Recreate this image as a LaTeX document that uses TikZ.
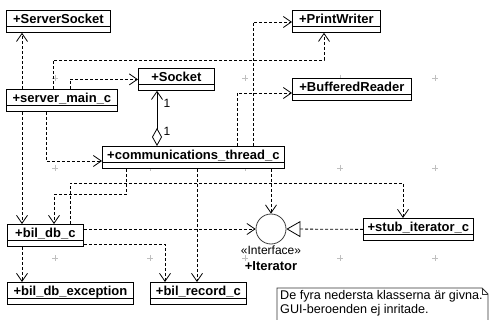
\documentclass[tikz,border=0pt]{standalone}
\usepackage{fontspec}
\newfontfamily\lib{Liberation Sans}
\usetikzlibrary{arrows.meta}
\begin{document}
\begin{tikzpicture}[x=1pt,y=-1pt,
  cls/.style={draw=black, fill=white, line width=0.8pt, inner xsep=3pt, inner ysep=0pt,
    text height=13pt, text depth=9pt, anchor=north west,
    font=\lib\bfseries\fontsize{13}{15}\selectfont,
    path picture={\draw[line width=0.8pt] ([yshift=-16pt]path picture bounding box.north west) -- ([yshift=-16pt]path picture bounding box.north east);}},
  dep/.style={line width=0.8pt, dash pattern=on 3pt off 2pt,
    -{Straight Barb[length=8pt,width=11pt,line width=0.8pt]}},
  real/.style={line width=0.8pt, dash pattern=on 3pt off 2pt,
    -{Triangle[open,length=14pt,width=16pt,line width=0.8pt]}},
  agg/.style={line width=0.8pt,
    {Diamond[open,length=18pt,width=10pt,line width=0.8pt]}-{Straight Barb[length=8pt,width=11pt,line width=0.8pt]}},
  gridmark/.style={draw=black!25, line width=0.6pt},
  lbl/.style={font=\lib\fontsize{12}{14}\selectfont, inner sep=0pt}
]
\useasboundingbox (0,0) rectangle (489,320);
\fill[white] (0,0) rectangle (489,320);
% background grid marks
\foreach \gx in {55,150,245,340,435}
  \foreach \gy in {78,168,258}
    \draw[gridmark] (\gx-3,\gy) -- (\gx+3,\gy) (\gx,\gy-3) -- (\gx,\gy+3);

% classes
\node[cls, minimum width=104pt] (ss) at (6,10) {+ServerSocket};
\node[cls, minimum width=88pt] (pw) at (292,10) {+PrintWriter};
\node[cls, minimum width=76pt] (so) at (138,68) {+Socket};
\node[cls, minimum width=111pt] (sm) at (6,89) {+server\_main\_c};
\node[cls, minimum width=119pt] (bf) at (292,78) {+BufferedReader};
\node[cls, minimum width=182pt] (cm) at (102,146) {+communications\_thread\_c};
\node[cls, minimum width=76pt] (bd) at (7,224) {+bil\_db\_c};
\node[cls, minimum width=110pt] (st) at (363,218) {+stub\_iterator\_c};
\node[cls, minimum width=126pt] (ex) at (7,282) {+bil\_db\_exception};
\node[cls, minimum width=96pt] (rc) at (150,282) {+bil\_record\_c};

% interface
\node[circle, draw=black!75, line width=0.8pt, fill=white, minimum size=30pt, inner sep=0pt] (it) at (271,229) {};
\node[lbl] (itst) at (271,250) {«Interface»};
\node[lbl, font=\lib\bfseries\fontsize{13}{15}\selectfont] (itnm) at (271,266) {+Iterator};

% connectors
\draw[dep] ([xshift=16pt]sm.north west) -- ([xshift=16pt]ss.south west);
\draw[dep] ([xshift=64pt]sm.north west) |- (so.west);
\draw[dep] ([xshift=47pt]sm.north west) -- ++(0,-29) -| ([xshift=32pt]pw.south west);
\draw[dep] ([xshift=40pt]sm.south west) |- ([yshift=-15pt]cm.north west);
\draw[dep] ([xshift=16pt]sm.south west) -- ([xshift=15pt]bd.north west);
\draw[agg] ([xshift=55pt]cm.north west) -- ([xshift=19pt]so.south west);
\node[lbl] (m1) at (167,103) {1};
\node[lbl] (m2) at (167,131) {1};
\draw[dep] ([xshift=151pt]cm.north west) |- ([yshift=-12pt]pw.north west);
\draw[dep] ([xshift=135pt]cm.north west) |- ([yshift=-15pt]bf.north west);
\draw[dep] ([xshift=24pt]cm.south west) -- ++(0,26) -| ([xshift=47pt]bd.north west);
\draw[dep] ([xshift=63pt]bd.north west) -- ++(0,-41) -| ([xshift=40pt]st.north west);
\draw[dep] ([xshift=95pt]cm.south west) -- ([xshift=47pt]rc.north west);
\draw[dep] (cm.south -| it.north) -- (it.north);
\draw[dep] ([yshift=-5pt]bd.north east) -- (it.west);
\draw[dep] ([yshift=-20pt]bd.north east) -| ([xshift=15pt]rc.north west);
\draw[dep] ([xshift=15pt]bd.south west) -- ([xshift=15pt]ex.north west);
\draw[real] (st.west) -- (it.east);

% note
\draw[black!80, line width=0.8pt, fill=white] (277,322) -- (277,288) -- (482,288) -- (488,294) -- (488,322);
\draw[black!80, line width=0.6pt] (482,288) -- (482,294) -- (488,294);
\node[lbl, font=\lib\fontsize{12.6}{14}\selectfont, anchor=north west, align=left] (note) at (280,290) {De fyra nedersta klasserna är givna.\\GUI-beroenden ej inritade.};
\end{tikzpicture}
\end{document}
